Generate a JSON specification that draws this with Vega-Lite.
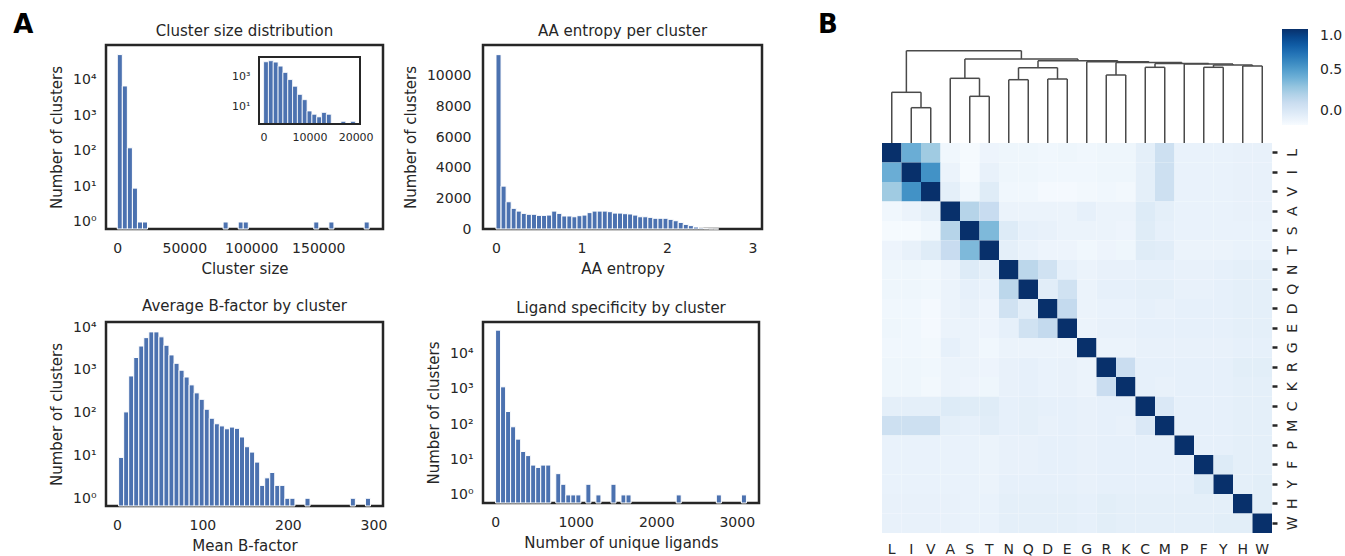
{
 "$schema": "https://vega.github.io/schema/vega-lite/v6.json",
 "padding": {"left": 13, "top": 11, "right": 0, "bottom": 0},
 "config": {
  "font": "DejaVu Sans",
  "view": {"stroke": "#262626", "strokeWidth": 2.5},
  "axis": {"labelColor": "#262626", "titleColor": "#262626", "labelFontSize": 14, "titleFontSize": 15, "titleFontWeight": "normal", "ticks": false, "domain": false, "grid": false, "labelFont": "DejaVu Sans", "titleFont": "DejaVu Sans"},
  "axisX": {"labelPadding": 12, "titlePadding": 6},
  "axisY": {"labelPadding": 10, "titlePadding": 8},
  "title": {"fontSize": 15, "fontWeight": "normal", "color": "#262626", "font": "DejaVu Sans", "offset": 6}
 },
 "spacing": 54,
 "hconcat": [
  {
   "title": {"text": "A", "fontSize": 26, "fontWeight": "bold", "color": "#000000", "anchor": "start", "dx": -35, "offset": -36, "baseline": "alphabetic"},
   "columns": 2,
   "spacing": {"row": 93, "column": 100},
   "bounds": "flush",
   "concat": [
    {
     "width": 277, "height": 184,
     "title": "Cluster size distribution",
     "layer": [
      {
       "data": {"values": [
        {"start": 0, "end": 3760, "count": 52000},
        {"start": 3760, "end": 7520, "count": 6800},
        {"start": 7520, "end": 11280, "count": 123},
        {"start": 11280, "end": 15040, "count": 9},
        {"start": 15040, "end": 18800, "count": 1},
        {"start": 18800, "end": 22560, "count": 1},
        {"start": 78960, "end": 82720, "count": 1},
        {"start": 90240, "end": 94000, "count": 1},
        {"start": 94000, "end": 97760, "count": 1},
        {"start": 146640, "end": 150400, "count": 1},
        {"start": 157920, "end": 161680, "count": 1},
        {"start": 184240, "end": 188000, "count": 1}
       ]},
       "mark": {"type": "bar", "color": "#4c72b0", "stroke": "white", "strokeWidth": 1},
       "encoding": {
        "x": {"field": "start", "type": "quantitative", "title": "Cluster size", "scale": {"domain": [-8430, 198300], "nice": false, "zero": false}, "axis": {"orient": "bottom", "values": [0, 50000, 100000, 150000], "format": "d"}},
        "x2": {"field": "end"},
        "y": {"field": "count", "type": "quantitative", "title": "Number of clusters", "scale": {"type": "log", "domain": [0.635, 96800], "nice": false}, "axis": {"orient": "left", "values": [1, 10, 100, 1000, 10000], "labelExpr": "'10' + ['⁰','¹','²','³','⁴','⁵'][round(log(datum.value)/LN10)]"}},
        "y2": {"datum": 0.635}
       }
      },
      {
       "layer": [
        {
         "data": {"values": [
          {"start": 0, "end": 1050, "count": 10500},
          {"start": 1050, "end": 2100, "count": 12300},
          {"start": 2100, "end": 3150, "count": 10000},
          {"start": 3150, "end": 4200, "count": 5350},
          {"start": 4200, "end": 5250, "count": 2000},
          {"start": 5250, "end": 6300, "count": 660},
          {"start": 6300, "end": 7350, "count": 234},
          {"start": 7350, "end": 8400, "count": 66},
          {"start": 8400, "end": 9450, "count": 29},
          {"start": 9450, "end": 10500, "count": 5},
          {"start": 10500, "end": 11550, "count": 3},
          {"start": 11550, "end": 12600, "count": 2},
          {"start": 12600, "end": 13650, "count": 4},
          {"start": 13650, "end": 14700, "count": 3},
          {"start": 16800, "end": 17850, "count": 1},
          {"start": 18900, "end": 19950, "count": 1}
         ]},
         "mark": {"type": "bar", "color": "#4c72b0", "stroke": "white", "strokeWidth": 0.8},
         "encoding": {
          "x": {"field": "start", "type": "quantitative", "title": null, "scale": {"domain": [-1000, 20950], "range": [153, 254], "nice": false, "zero": false}, "axis": {"orient": "bottom", "offset": -105, "values": [0, 10000, 20000], "format": "d", "labelFontSize": 11, "labelPadding": 7}},
          "x2": {"field": "end"},
          "y": {"field": "count", "type": "quantitative", "title": null, "scale": {"type": "log", "domain": [0.66, 22000], "range": [79, 12], "nice": false}, "axis": {"orient": "left", "offset": -153, "values": [10, 1000], "labelFontSize": 11, "labelPadding": 9, "labelExpr": "'10' + ['⁰','¹','²','³','⁴','⁵'][round(log(datum.value)/LN10)]"}},
          "y2": {"datum": 0.66}
         }
        },
        {
         "data": {"values": [{}]},
         "mark": {"type": "rect", "fill": null, "stroke": "#262626", "strokeWidth": 2},
         "encoding": {
          "x": {"datum": -1000, "title": null},
          "x2": {"datum": 20950},
          "y": {"datum": 0.66, "title": null},
          "y2": {"datum": 22000}
         }
        }
       ]
      }
     ],
     "resolve": {"scale": {"x": "independent", "y": "independent"}}
    },
    {
     "width": 279, "height": 184,
     "title": "AA entropy per cluster",
     "data": {"values": [
      {"start": 0, "end": 0.0592, "count": 11390},
      {"start": 0.0592, "end": 0.1184, "count": 2800},
      {"start": 0.1184, "end": 0.1776, "count": 1780},
      {"start": 0.1776, "end": 0.2368, "count": 1350},
      {"start": 0.2368, "end": 0.296, "count": 1170},
      {"start": 0.296, "end": 0.3552, "count": 1020},
      {"start": 0.3552, "end": 0.4144, "count": 960},
      {"start": 0.4144, "end": 0.4736, "count": 960},
      {"start": 0.4736, "end": 0.5328, "count": 890},
      {"start": 0.5328, "end": 0.592, "count": 890},
      {"start": 0.592, "end": 0.6512, "count": 910},
      {"start": 0.6512, "end": 0.7104, "count": 1170},
      {"start": 0.7104, "end": 0.7696, "count": 1020},
      {"start": 0.7696, "end": 0.8288, "count": 850},
      {"start": 0.8288, "end": 0.888, "count": 850},
      {"start": 0.888, "end": 0.9472, "count": 800},
      {"start": 0.9472, "end": 1.0064, "count": 870},
      {"start": 1.0064, "end": 1.0656, "count": 910},
      {"start": 1.0656, "end": 1.1248, "count": 1070},
      {"start": 1.1248, "end": 1.184, "count": 1170},
      {"start": 1.184, "end": 1.2432, "count": 1170},
      {"start": 1.2432, "end": 1.3024, "count": 1170},
      {"start": 1.3024, "end": 1.3616, "count": 1130},
      {"start": 1.3616, "end": 1.4208, "count": 1040},
      {"start": 1.4208, "end": 1.48, "count": 1040},
      {"start": 1.48, "end": 1.5392, "count": 1000},
      {"start": 1.5392, "end": 1.5984, "count": 980},
      {"start": 1.5984, "end": 1.6576, "count": 910},
      {"start": 1.6576, "end": 1.7168, "count": 800},
      {"start": 1.7168, "end": 1.776, "count": 800},
      {"start": 1.776, "end": 1.8352, "count": 760},
      {"start": 1.8352, "end": 1.8944, "count": 700},
      {"start": 1.8944, "end": 1.9536, "count": 700},
      {"start": 1.9536, "end": 2.0128, "count": 700},
      {"start": 2.0128, "end": 2.072, "count": 630},
      {"start": 2.072, "end": 2.1312, "count": 540},
      {"start": 2.1312, "end": 2.1904, "count": 430},
      {"start": 2.1904, "end": 2.2496, "count": 300},
      {"start": 2.2496, "end": 2.3088, "count": 220},
      {"start": 2.3088, "end": 2.368, "count": 130},
      {"start": 2.368, "end": 2.4272, "count": 65},
      {"start": 2.4272, "end": 2.4864, "count": 25},
      {"start": 2.4864, "end": 2.5456, "count": 10},
      {"start": 2.5456, "end": 2.6048, "count": 4}
     ]},
     "mark": {"type": "bar", "color": "#4c72b0", "stroke": "white", "strokeWidth": 1},
     "encoding": {
      "x": {"field": "start", "type": "quantitative", "title": "AA entropy", "scale": {"domain": [-0.152, 3.111], "nice": false, "zero": false}, "axis": {"values": [0, 1, 2, 3], "format": "d"}},
      "x2": {"field": "end"},
      "y": {"field": "count", "type": "quantitative", "title": "Number of clusters", "scale": {"domain": [0, 12020], "nice": false}, "axis": {"values": [0, 2000, 4000, 6000, 8000, 10000], "format": "d", "labelPadding": 12}},
      "y2": {"datum": 0}
     }
    },
    {
     "width": 277, "height": 184,
     "title": "Average B-factor by cluster",
     "data": {"values": [
      {"start": 2.06, "end": 7.95, "count": 9},
      {"start": 7.95, "end": 13.84, "count": 104},
      {"start": 13.84, "end": 19.73, "count": 720},
      {"start": 19.73, "end": 25.62, "count": 1940},
      {"start": 25.62, "end": 31.51, "count": 3600},
      {"start": 31.51, "end": 37.4, "count": 5650},
      {"start": 37.4, "end": 43.29, "count": 7700},
      {"start": 43.29, "end": 49.18, "count": 7700},
      {"start": 49.18, "end": 55.07, "count": 5900},
      {"start": 55.07, "end": 60.96, "count": 3750},
      {"start": 60.96, "end": 66.85, "count": 2230},
      {"start": 66.85, "end": 72.74, "count": 1420},
      {"start": 72.74, "end": 78.63, "count": 980},
      {"start": 78.63, "end": 84.52, "count": 680},
      {"start": 84.52, "end": 90.41, "count": 445},
      {"start": 90.41, "end": 96.3, "count": 290},
      {"start": 96.3, "end": 102.19, "count": 205},
      {"start": 102.19, "end": 108.08, "count": 120},
      {"start": 108.08, "end": 113.97, "count": 74},
      {"start": 113.97, "end": 119.86, "count": 55},
      {"start": 119.86, "end": 125.75, "count": 49},
      {"start": 125.75, "end": 131.64, "count": 42},
      {"start": 131.64, "end": 137.53, "count": 46},
      {"start": 137.53, "end": 143.42, "count": 43},
      {"start": 143.42, "end": 149.31, "count": 27},
      {"start": 149.31, "end": 155.2, "count": 16},
      {"start": 155.2, "end": 161.09, "count": 12},
      {"start": 161.09, "end": 166.98, "count": 7},
      {"start": 166.98, "end": 172.87, "count": 2},
      {"start": 172.87, "end": 178.76, "count": 3},
      {"start": 178.76, "end": 184.65, "count": 4},
      {"start": 184.65, "end": 190.54, "count": 2},
      {"start": 190.54, "end": 196.43, "count": 2},
      {"start": 196.43, "end": 202.32, "count": 1},
      {"start": 202.32, "end": 208.21, "count": 1},
      {"start": 219.99, "end": 225.88, "count": 1},
      {"start": 273.0, "end": 278.89, "count": 1},
      {"start": 290.67, "end": 296.56, "count": 1}
     ]},
     "mark": {"type": "bar", "color": "#4c72b0", "stroke": "white", "strokeWidth": 1},
     "encoding": {
      "x": {"field": "start", "type": "quantitative", "title": "Mean B-factor", "scale": {"domain": [-12.7, 311.2], "nice": false, "zero": false}, "axis": {"values": [0, 100, 200, 300], "format": "d"}},
      "x2": {"field": "end"},
      "y": {"field": "count", "type": "quantitative", "title": "Number of clusters", "scale": {"type": "log", "domain": [0.66, 13100], "nice": false}, "axis": {"values": [1, 10, 100, 1000, 10000], "labelExpr": "'10' + ['⁰','¹','²','³','⁴','⁵'][round(log(datum.value)/LN10)]"}},
      "y2": {"datum": 0.66}
     }
    },
    {
     "width": 276, "height": 181,
     "title": "Ligand specificity by cluster",
     "data": {"values": [
      {"start": 5, "end": 67.3, "count": 46500},
      {"start": 67.3, "end": 129.6, "count": 1150},
      {"start": 129.6, "end": 191.9, "count": 230},
      {"start": 191.9, "end": 254.2, "count": 85},
      {"start": 254.2, "end": 316.5, "count": 38},
      {"start": 316.5, "end": 378.8, "count": 17},
      {"start": 378.8, "end": 441.1, "count": 13},
      {"start": 441.1, "end": 503.4, "count": 7},
      {"start": 503.4, "end": 565.7, "count": 6},
      {"start": 565.7, "end": 628, "count": 7},
      {"start": 628, "end": 690.3, "count": 7},
      {"start": 752.6, "end": 814.9, "count": 4},
      {"start": 814.9, "end": 877.2, "count": 2},
      {"start": 877.2, "end": 939.5, "count": 1},
      {"start": 939.5, "end": 1001.8, "count": 1},
      {"start": 1001.8, "end": 1064.1, "count": 1},
      {"start": 1126.4, "end": 1188.7, "count": 2},
      {"start": 1251, "end": 1313.3, "count": 1},
      {"start": 1437.9, "end": 1500.2, "count": 2},
      {"start": 1562.5, "end": 1624.8, "count": 1},
      {"start": 1624.8, "end": 1687.1, "count": 1},
      {"start": 2247.8, "end": 2310.1, "count": 1},
      {"start": 2746.2, "end": 2808.5, "count": 1},
      {"start": 3057.7, "end": 3120, "count": 1}
     ]},
     "mark": {"type": "bar", "color": "#4c72b0", "stroke": "white", "strokeWidth": 1},
     "encoding": {
      "x": {"field": "start", "type": "quantitative", "title": "Number of unique ligands", "scale": {"domain": [-151, 3276], "nice": false, "zero": false}, "axis": {"values": [0, 1000, 2000, 3000], "format": "d"}},
      "x2": {"field": "end"},
      "y": {"field": "count", "type": "quantitative", "title": "Number of clusters", "scale": {"type": "log", "domain": [0.59, 79000], "nice": false}, "axis": {"values": [1, 10, 100, 1000, 10000], "labelExpr": "'10' + ['⁰','¹','²','³','⁴','⁵'][round(log(datum.value)/LN10)]"}},
      "y2": {"datum": 0.59}
     }
    }
   ]
  },
  {
   "title": {"text": "B", "fontSize": 26, "fontWeight": "bold", "color": "#000000", "anchor": "start", "dx": -64, "offset": -14, "baseline": "alphabetic"},
   "spacing": 0,
   "bounds": "flush",
   "vconcat": [
    {
     "width": 390, "height": 98,
     "view": {"stroke": null},
     "data": {"values": [
      {"xl": 1.5, "xr": 2.5, "hl": 0, "hr": 0, "h": 3.53},
      {"xl": 0.5, "xr": 2.0, "hl": 0, "hr": 3.53, "h": 5.07},
      {"xl": 4.5, "xr": 5.5, "hl": 0, "hr": 0, "h": 4.67},
      {"xl": 3.5, "xr": 5.0, "hl": 0, "hr": 4.67, "h": 6.47},
      {"xl": 6.5, "xr": 7.5, "hl": 0, "hr": 0, "h": 6.33},
      {"xl": 8.5, "xr": 9.5, "hl": 0, "hr": 0, "h": 6.40},
      {"xl": 7.0, "xr": 9.0, "hl": 6.33, "hr": 6.40, "h": 7.53},
      {"xl": 11.5, "xr": 12.5, "hl": 0, "hr": 0, "h": 6.80},
      {"xl": 13.5, "xr": 14.5, "hl": 0, "hr": 0, "h": 7.57},
      {"xl": 16.5, "xr": 17.5, "hl": 0, "hr": 0, "h": 7.57},
      {"xl": 18.5, "xr": 19.5, "hl": 0, "hr": 0, "h": 7.70},
      {"xl": 17.0, "xr": 19.0, "hl": 7.57, "hr": 7.70, "h": 7.80},
      {"xl": 15.5, "xr": 18.0, "hl": 0, "hr": 7.80, "h": 7.90},
      {"xl": 14.0, "xr": 16.75, "hl": 7.57, "hr": 7.90, "h": 7.96},
      {"xl": 12.0, "xr": 15.375, "hl": 6.80, "hr": 7.96, "h": 8.04},
      {"xl": 10.5, "xr": 13.6875, "hl": 0, "hr": 8.04, "h": 8.13},
      {"xl": 8.0, "xr": 12.09375, "hl": 7.53, "hr": 8.13, "h": 8.22},
      {"xl": 4.25, "xr": 10.046875, "hl": 6.47, "hr": 8.22, "h": 8.40},
      {"xl": 1.25, "xr": 7.1484375, "hl": 5.07, "hr": 8.40, "h": 9.23}
     ]},
     "layer": [
      {
       "mark": {"type": "rule", "color": "#4a4a4a", "strokeWidth": 1.5},
       "encoding": {
        "x": {"field": "xl", "type": "quantitative", "scale": {"domain": [0, 20], "nice": false, "zero": false}, "axis": null},
        "y": {"field": "hl", "type": "quantitative", "scale": {"domain": [0, 9.8], "nice": false}, "axis": null},
        "y2": {"field": "h"}
       }
      },
      {
       "mark": {"type": "rule", "color": "#4a4a4a", "strokeWidth": 1.5},
       "encoding": {
        "x": {"field": "xl", "type": "quantitative", "axis": null},
        "x2": {"field": "xr"},
        "y": {"field": "h", "type": "quantitative", "axis": null}
       }
      },
      {
       "mark": {"type": "rule", "color": "#4a4a4a", "strokeWidth": 1.5},
       "encoding": {
        "x": {"field": "xr", "type": "quantitative", "axis": null},
        "y": {"field": "hr", "type": "quantitative", "axis": null},
        "y2": {"field": "h"}
       }
      }
     ]
    },
    {
     "width": 390, "height": 390,
     "view": {"stroke": null},
     "data": {"values": [
      {"row": "L", "L": 1, "I": 0.42, "V": 0.26, "A": -0.13, "S": -0.16, "T": -0.11, "N": -0.12, "Q": -0.12, "D": -0.13, "E": -0.12, "G": -0.13, "R": -0.12, "K": -0.12, "C": -0.06, "M": 0.08, "P": -0.09, "F": -0.09, "Y": -0.09, "H": -0.08, "W": -0.08},
      {"row": "I", "L": 0.42, "I": 1, "V": 0.56, "A": -0.1, "S": -0.16, "T": -0.08, "N": -0.12, "Q": -0.12, "D": -0.13, "E": -0.13, "G": -0.13, "R": -0.12, "K": -0.12, "C": -0.06, "M": 0.08, "P": -0.09, "F": -0.09, "Y": -0.09, "H": -0.08, "W": -0.08},
      {"row": "V", "L": 0.26, "I": 0.56, "V": 1, "A": -0.06, "S": -0.13, "T": -0.03, "N": -0.13, "Q": -0.13, "D": -0.15, "E": -0.15, "G": -0.14, "R": -0.13, "K": -0.14, "C": -0.06, "M": 0.08, "P": -0.09, "F": -0.09, "Y": -0.09, "H": -0.08, "W": -0.08},
      {"row": "A", "L": -0.13, "I": -0.1, "V": -0.06, "A": 1, "S": 0.18, "T": 0.11, "N": -0.1, "Q": -0.1, "D": -0.1, "E": -0.1, "G": -0.07, "R": -0.1, "K": -0.1, "C": -0.02, "M": -0.06, "P": -0.09, "F": -0.09, "Y": -0.09, "H": -0.08, "W": -0.08},
      {"row": "S", "L": -0.16, "I": -0.16, "V": -0.13, "A": 0.18, "S": 1, "T": 0.36, "N": -0.02, "Q": -0.07, "D": -0.08, "E": -0.1, "G": -0.1, "R": -0.1, "K": -0.11, "C": -0.03, "M": -0.07, "P": -0.09, "F": -0.09, "Y": -0.09, "H": -0.09, "W": -0.09},
      {"row": "T", "L": -0.11, "I": -0.08, "V": -0.03, "A": 0.11, "S": 0.36, "T": 1, "N": -0.06, "Q": -0.09, "D": -0.11, "E": -0.11, "G": -0.13, "R": -0.11, "K": -0.12, "C": -0.03, "M": -0.04, "P": -0.1, "F": -0.1, "Y": -0.1, "H": -0.09, "W": -0.09},
      {"row": "N", "L": -0.12, "I": -0.12, "V": -0.13, "A": -0.1, "S": -0.02, "T": -0.06, "N": 1, "Q": 0.16, "D": 0.06, "E": -0.07, "G": -0.1, "R": -0.08, "K": -0.08, "C": -0.07, "M": -0.07, "P": -0.08, "F": -0.08, "Y": -0.07, "H": -0.06, "W": -0.06},
      {"row": "Q", "L": -0.12, "I": -0.12, "V": -0.13, "A": -0.1, "S": -0.07, "T": -0.09, "N": 0.16, "Q": 1, "D": -0.04, "E": 0.06, "G": -0.1, "R": -0.07, "K": -0.07, "C": -0.06, "M": -0.06, "P": -0.08, "F": -0.08, "Y": -0.07, "H": -0.06, "W": -0.06},
      {"row": "D", "L": -0.13, "I": -0.13, "V": -0.15, "A": -0.1, "S": -0.08, "T": -0.11, "N": 0.06, "Q": -0.04, "D": 1, "E": 0.13, "G": -0.1, "R": -0.09, "K": -0.09, "C": -0.07, "M": -0.08, "P": -0.07, "F": -0.07, "Y": -0.07, "H": -0.06, "W": -0.06},
      {"row": "E", "L": -0.12, "I": -0.13, "V": -0.15, "A": -0.1, "S": -0.1, "T": -0.11, "N": -0.07, "Q": 0.06, "D": 0.13, "E": 1, "G": -0.1, "R": -0.08, "K": -0.08, "C": -0.07, "M": -0.07, "P": -0.07, "F": -0.07, "Y": -0.07, "H": -0.06, "W": -0.06},
      {"row": "G", "L": -0.13, "I": -0.13, "V": -0.14, "A": -0.07, "S": -0.1, "T": -0.13, "N": -0.1, "Q": -0.1, "D": -0.1, "E": -0.1, "G": 1, "R": -0.1, "K": -0.1, "C": -0.08, "M": -0.08, "P": -0.08, "F": -0.08, "Y": -0.08, "H": -0.07, "W": -0.07},
      {"row": "R", "L": -0.12, "I": -0.12, "V": -0.13, "A": -0.1, "S": -0.1, "T": -0.11, "N": -0.08, "Q": -0.07, "D": -0.09, "E": -0.08, "G": -0.1, "R": 1, "K": 0.1, "C": -0.07, "M": -0.07, "P": -0.07, "F": -0.07, "Y": -0.07, "H": -0.05, "W": -0.05},
      {"row": "K", "L": -0.12, "I": -0.12, "V": -0.14, "A": -0.1, "S": -0.11, "T": -0.12, "N": -0.08, "Q": -0.07, "D": -0.09, "E": -0.08, "G": -0.1, "R": 0.1, "K": 1, "C": -0.07, "M": -0.08, "P": -0.07, "F": -0.07, "Y": -0.07, "H": -0.06, "W": -0.06},
      {"row": "C", "L": -0.06, "I": -0.06, "V": -0.06, "A": -0.02, "S": -0.03, "T": -0.03, "N": -0.07, "Q": -0.06, "D": -0.07, "E": -0.07, "G": -0.08, "R": -0.07, "K": -0.07, "C": 1, "M": 0.0, "P": -0.07, "F": -0.07, "Y": -0.07, "H": -0.06, "W": -0.06},
      {"row": "M", "L": 0.08, "I": 0.08, "V": 0.08, "A": -0.06, "S": -0.07, "T": -0.04, "N": -0.07, "Q": -0.06, "D": -0.08, "E": -0.07, "G": -0.08, "R": -0.07, "K": -0.08, "C": 0.0, "M": 1, "P": -0.07, "F": -0.07, "Y": -0.07, "H": -0.06, "W": -0.06},
      {"row": "P", "L": -0.09, "I": -0.09, "V": -0.09, "A": -0.09, "S": -0.09, "T": -0.1, "N": -0.08, "Q": -0.08, "D": -0.07, "E": -0.07, "G": -0.08, "R": -0.07, "K": -0.07, "C": -0.07, "M": -0.07, "P": 1, "F": -0.07, "Y": -0.07, "H": -0.06, "W": -0.06},
      {"row": "F", "L": -0.09, "I": -0.09, "V": -0.09, "A": -0.09, "S": -0.09, "T": -0.1, "N": -0.08, "Q": -0.08, "D": -0.07, "E": -0.07, "G": -0.08, "R": -0.07, "K": -0.07, "C": -0.07, "M": -0.07, "P": -0.07, "F": 1, "Y": -0.02, "H": -0.06, "W": -0.06},
      {"row": "Y", "L": -0.09, "I": -0.09, "V": -0.09, "A": -0.09, "S": -0.09, "T": -0.1, "N": -0.07, "Q": -0.07, "D": -0.07, "E": -0.07, "G": -0.08, "R": -0.07, "K": -0.07, "C": -0.07, "M": -0.07, "P": -0.07, "F": -0.02, "Y": 1, "H": -0.06, "W": -0.05},
      {"row": "H", "L": -0.08, "I": -0.08, "V": -0.08, "A": -0.08, "S": -0.09, "T": -0.09, "N": -0.06, "Q": -0.06, "D": -0.06, "E": -0.06, "G": -0.07, "R": -0.05, "K": -0.06, "C": -0.06, "M": -0.06, "P": -0.06, "F": -0.06, "Y": -0.06, "H": 1, "W": -0.05},
      {"row": "W", "L": -0.08, "I": -0.08, "V": -0.08, "A": -0.08, "S": -0.09, "T": -0.09, "N": -0.06, "Q": -0.06, "D": -0.06, "E": -0.06, "G": -0.07, "R": -0.05, "K": -0.06, "C": -0.06, "M": -0.06, "P": -0.06, "F": -0.06, "Y": -0.05, "H": -0.05, "W": 1}
     ]},
     "transform": [{"fold": ["L", "I", "V", "A", "S", "T", "N", "Q", "D", "E", "G", "R", "K", "C", "M", "P", "F", "Y", "H", "W"], "as": ["col", "value"]}],
     "mark": {"type": "rect"},
     "encoding": {
      "x": {"field": "col", "type": "nominal", "sort": ["L", "I", "V", "A", "S", "T", "N", "Q", "D", "E", "G", "R", "K", "C", "M", "P", "F", "Y", "H", "W"], "title": null, "scale": {"paddingInner": 0, "paddingOuter": 0}, "axis": {"orient": "bottom", "labelAngle": 0, "labelPadding": 9, "ticks": false, "domain": false}},
      "y": {"field": "row", "type": "nominal", "sort": ["L", "I", "V", "A", "S", "T", "N", "Q", "D", "E", "G", "R", "K", "C", "M", "P", "F", "Y", "H", "W"], "title": null, "scale": {"paddingInner": 0, "paddingOuter": 0}, "axis": {"orient": "right", "ticks": true, "tickSize": 5, "tickWidth": 2.5, "tickColor": "#262626", "labelAngle": 270, "labelAlign": "center", "labelBaseline": "top", "labelPadding": 8, "domain": false}},
      "color": {"field": "value", "type": "quantitative", "scale": {"type": "linear", "domain": [-0.17, -0.02375, 0.1225, 0.26875, 0.415, 0.56125, 0.7075, 0.85375, 1.0], "range": ["#f7fbff", "#deebf7", "#c6dbef", "#9ecae1", "#6baed6", "#4292c6", "#2171b5", "#08519c", "#08306b"], "interpolate": "rgb", "nice": false, "zero": false}, "legend": {"orient": "none", "legendX": 1176, "legendY": -16, "direction": "vertical", "gradientLength": 96, "gradientThickness": 26, "title": null, "values": [0, 0.5, 1], "format": ".1f", "labelFontSize": 14, "labelColor": "#262626", "labelOffset": 12, "padding": 0, "gradientStrokeWidth": 0}}
     }
    }
   ]
  }
 ]
}
